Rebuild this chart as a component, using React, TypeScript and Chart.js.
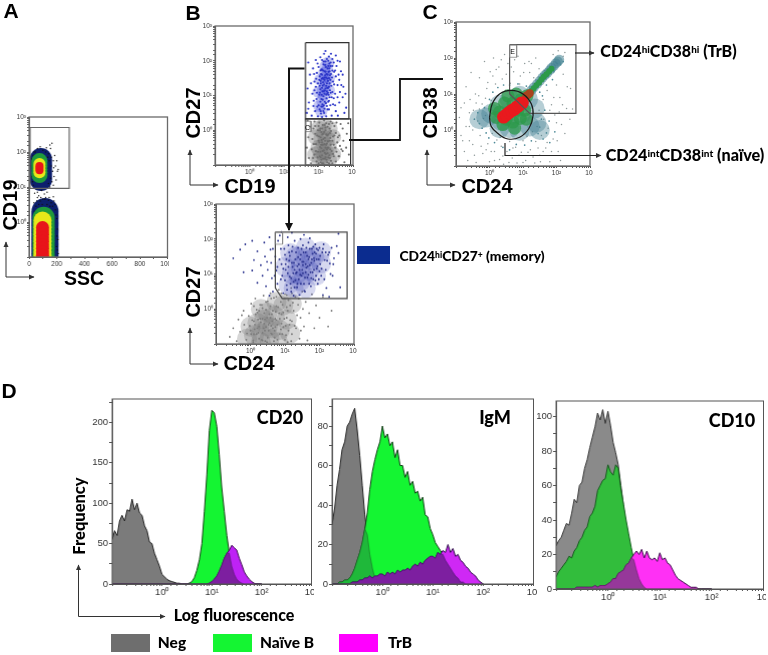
import React, { useEffect, useRef } from "react";
import { Chart, registerables } from "chart.js";
Chart.register(...registerables);

type P = [number, number];

// ---- Histogram data (panel D): shared log-spaced fluorescence channels
const channels = [0.1,0.112,0.126,0.141,0.158,0.178,0.2,0.224,0.251,0.282,0.316,0.355,0.398,0.447,0.501,0.562,0.631,0.708,0.794,0.891,1,1.12,1.26,1.41,1.58,1.78,2,2.24,2.51,2.82,3.16,3.55,3.98,4.47,5.01,5.62,6.31,7.08,7.94,8.91,10,11.2,12.6,14.1,15.8,17.8,20,22.4,25.1,28.2,31.6,35.5,39.8,44.7,50.1,56.2,63.1,70.8,79.4,89.1,100];
const cd20Neg = [55,66,60,78,85,78,92,90,105,92,100,88,85,72,66,52,50,38,30,22,12,9,6,4,3,2,1,1,0,0,0,1,0];
const cd20Naive = [0,0,0,0,0,0,0,0,0,0,0,0,0,0,0,0,0,0,0,0,0,0,0,0,0,0,0,0,0,0,0,1,3,8,17,30,50,90,135,190,215,212,195,160,120,90,60,38,22,12,6,3,1,0];
const cd20TrB = [0,0,0,0,0,0,0,0,0,0,0,0,0,0,0,0,0,0,0,0,0,0,0,0,0,0,0,0,0,0,0,0,0,0,0,0,0,0,0,1,3,6,10,16,23,32,38,42,48,45,42,32,24,15,10,6,3,1,0];
const igmNeg = [30,38,50,58,68,72,80,82,86,89,78,65,50,35,25,15,8,3,1,0];
const igmNaive = [0,0,0,1,1,2,2,3,5,8,12,16,21,28,36,48,57,63,68,72,80,74,76,70,72,64,68,60,60,54,57,50,52,46,47,42,44,35,34,28,25,21,19,17,15,12,10,8,6,4,3,1,1,0];
const igmTrB = [0,0,0,0,0,0,0,0,1,1,1,2,2,3,3,4,3,4,4,5,5,4,6,5,6,5,7,6,7,7,8,7,9,10,9,11,10,12,13,14,14,13,16,15,17,16,20,16,18,14,15,12,11,9,8,6,5,4,2,1,0];
const cd10Neg = [25,28,30,34,38,37,44,52,50,60,62,70,75,82,88,94,102,98,104,96,103,95,85,79,72,60,48,36,28,20,13,7,4,2,1,0];
const cd10Naive = [7,10,12,14,16,19,18,22,24,28,30,34,36,42,44,48,57,60,63,64,72,68,66,72,70,58,49,40,32,24,17,11,6,3,1,0];
const cd10TrB = [0,0,0,0,0,0,0,0,1,1,1,1,1,1,1,2,1,2,2,2,3,4,6,6,9,10,11,14,15,18,20,22,20,23,18,22,18,17,18,16,21,17,18,15,14,11,8,6,5,4,3,2,1,1,1,0];

// ---- Panel A: SSC / log10 CD19
const aGate: P[] = [[7,2.7],[290,2.7],[290,0.96],[7,0.96],[7,2.7]];
const aUpperBlue: P[] = [[85,1.2],[85,1.3],[85,1.4],[85,1.5],[85,1.6],[85,1.7],[85,1.8]];
const aUpperGreen: P[] = [[75,1.34],[75,1.42],[75,1.5],[75,1.58],[75,1.66],[75,1.74]];
const aUpperYellow: P[] = [[75,1.42],[75,1.5],[75,1.58],[75,1.66]];
const aUpperRed: P[] = [[75,1.48],[75,1.54],[75,1.6]];
const aLowerBlue: P[] = [[115,0.3],[115,0.2],[115,0.1],[115,0],[115,-0.1],[115,-0.2],[115,-0.3],[115,-0.4],[115,-0.5],[115,-0.6],[115,-0.7],[115,-0.8],[115,-0.9],[115,-1]];
const aLowerGreen: P[] = [[105,0.12],[105,0],[105,-0.1],[105,-0.2],[105,-0.3],[105,-0.4],[105,-0.5],[105,-0.6],[105,-0.7],[105,-0.8],[105,-0.9],[105,-1]];
const aLowerYellow: P[] = [[97,0.04],[97,-0.05],[97,-0.15],[97,-0.25],[97,-0.35],[97,-0.45],[97,-0.55],[97,-0.65],[97,-0.75],[97,-0.85],[97,-0.95]];
const aLowerRed: P[] = [[97,-0.16],[97,-0.25],[97,-0.35],[97,-0.45],[97,-0.55],[97,-0.65],[97,-0.75],[97,-0.85],[97,-0.95]];
const aSpeckle: P[] = [[30,1.9],[45,2.0],[60,2.1],[80,2.15],[100,2.05],[120,2.0],[140,1.95],[160,1.85],[175,1.75],[190,1.6],[205,1.45],[180,1.3],[165,1.15],[150,1.0],[130,0.85],[110,0.8],[90,0.9],[70,0.75],[50,0.95],[30,1.05],[20,1.3],[15,1.6],[18,1.8],[165,2.25],[150,2.2],[195,1.2],[175,1.05],[145,0.7],[115,0.65],[85,0.7],[60,0.85],[40,0.82],[210,1.5],[200,1.75],[185,1.9],[155,2.1],[125,2.12],[35,2.0],[25,1.15],[160,1.6],[170,1.45],[178,1.55],[155,1.25],[140,1.1],[135,1.85],[145,1.75],[60,0.7],[80,0.6],[100,0.65],[120,0.7],[140,0.62],[160,0.55],[180,0.6],[70,0.5],[95,0.5],[130,0.5],[150,0.45],[170,0.45],[190,0.35],[200,0.1],[205,-0.2],[208,-0.5],[205,-0.8],[195,0.2],[40,0.3],[35,0],[30,-0.3],[28,-0.6],[30,-0.9],[50,0.45],[210,-0.9],[200,-0.4],[198,-0.7],[188,0.5],[175,0.72],[55,0.6],[35,0.55]];

// ---- Panel B (top): log10 CD19 / log10 CD27
const bTopGateHi: P[] = [[1.62,2.52],[2.88,2.52],[2.88,0.33],[1.62,0.33],[1.62,2.52]];
const bTopGateLo: P[] = [[1.62,0.33],[2.93,0.33],[2.93,-1],[1.62,-1],[1.62,0.33]];
const bTopGateC: P[] = [[1.62,0.26],[1.78,0.26],[1.78,-0.04],[1.62,-0.04],[1.62,0.26]];
const bTopBlueCore: P[] = [[2.16,1.65],[2.22,1.4],[2.12,1.15],[2.1,0.85],[2.08,0.55],[2.25,1.75],[2.18,1.25],[2.2,1.55],[2.14,1.0],[2.2,1.85],[2.3,1.5],[2.0,1.1],[2.02,0.7],[2.28,1.95],[2.05,1.45],[2.3,1.15]];
const bTopBlue: P[] = [[1.7,1.95],[1.75,1.6],[1.68,1.2],[1.72,0.8],[1.66,0.5],[1.8,0.42],[1.85,0.7],[1.82,1.05],[1.88,1.4],[1.84,1.78],[1.92,2.02],[1.95,1.65],[1.92,1.25],[1.94,0.9],[1.9,0.55],[1.98,0.4],[2.0,0.72],[2.02,1.02],[1.98,1.35],[2.03,1.55],[2.0,1.82],[2.05,2.1],[2.08,1.75],[2.06,1.42],[2.05,1.18],[2.08,0.9],[2.06,0.55],[2.1,0.38],[2.12,0.68],[2.14,0.98],[2.12,1.28],[2.1,1.6],[2.14,1.9],[2.16,2.2],[2.2,2.28],[2.2,1.98],[2.18,1.7],[2.17,1.45],[2.2,1.2],[2.18,0.82],[2.16,0.5],[2.22,0.4],[2.24,0.7],[2.25,1.05],[2.24,1.35],[2.26,1.6],[2.28,1.85],[2.3,2.12],[2.36,2.2],[2.35,1.95],[2.32,1.7],[2.34,1.45],[2.3,1.25],[2.32,0.95],[2.3,0.6],[2.38,0.42],[2.42,0.75],[2.4,1.1],[2.42,1.4],[2.45,1.68],[2.44,1.95],[2.5,2.15],[2.52,1.85],[2.5,1.55],[2.55,1.3],[2.5,0.55],[2.56,0.42],[2.6,0.8],[2.62,1.1],[2.6,1.45],[2.65,1.7],[2.62,1.98],[2.7,1.6],[2.72,1.25],[2.7,0.95],[2.75,0.5],[2.78,1.05],[2.8,0.65],[2.22,1.52],[2.12,1.5],[2.28,1.22],[2.4,1.72],[1.78,1.35],[1.7,0.62],[2.48,1.05],[2.55,2.0],
  [2.03,1.28],[2.07,1.62],[2.11,0.75],[2.15,1.12],[2.19,1.58],[2.23,0.92],[2.27,1.42],[2.31,1.78],[2.09,1.02],[2.13,1.38],[2.17,0.62],[2.21,1.82],[2.25,1.22],[2.29,1.02],[2.33,1.58],[2.37,1.28],[2.05,0.82],[2.09,1.48],[2.13,1.72],[2.17,1.05],[2.21,0.78],[2.25,1.48],[2.29,1.68],[2.33,1.15],[2.04,1.08],[2.08,0.68],[2.12,0.88],[2.16,1.32],[2.2,1.68],[2.24,1.12],[2.28,0.82],[2.32,1.35],[2.36,1.62],[2.06,1.35],[2.1,1.22],[2.14,0.55],[2.18,1.52],[2.22,1.28],[2.26,1.78],[2.3,1.5],[2.34,1.85],[2.03,0.6],[2.07,0.48],[2.11,1.12],[2.15,0.72],[2.19,1.88],[2.23,1.62],[2.27,1.08],[2.31,1.92],[2.35,1.08],[2.39,1.52],[2.02,1.45],[2.06,1.72],[2.1,1.75],[2.14,1.48],[2.18,1.15],[2.22,1.02],[2.26,0.6],[2.3,0.85],[2.34,0.72],[2.38,0.95],[2.4,1.85],[2.45,1.32],[2.48,1.72],[2.44,0.92],[1.95,1.08],[1.93,1.48],[1.96,0.68],[1.97,1.92],[2.15,1.98],[2.24,2.05],[2.1,2.02],[2.28,2.0],[2.4,2.05],[1.88,1.15],[1.86,0.85],[1.87,1.62],[2.55,0.95],[2.58,1.6],[2.66,1.3],[2.48,0.72]];
const bTopGreyCore: P[] = [[2.15,-0.7],[2.15,-0.4],[2.15,-0.1],[2.0,-0.5],[2.3,-0.5],[2.15,-0.95],[2.02,-0.85],[2.3,-0.85],[2.08,-0.25],[2.25,-0.25],[2.05,-0.62],[2.22,-0.62],[1.9,-0.7],[1.92,-0.2],[2.42,-0.7],[2.42,-0.2],[2.15,0.12],[2.32,0.05],[2.0,0.05]];
const bTopGrey: P[] = [[1.68,0.28],[1.75,0.1],[1.7,-0.2],[1.66,-0.5],[1.72,-0.8],[1.78,-0.95],[1.8,-0.55],[1.82,-0.25],[1.85,0.05],[1.88,0.25],[1.9,-0.1],[1.92,-0.4],[1.88,-0.7],[1.94,-0.9],[1.98,-0.62],[2.0,-0.3],[1.98,0],[2.02,0.22],[2.05,0.05],[2.06,-0.2],[2.04,-0.48],[2.06,-0.78],[2.1,-0.95],[2.12,-0.6],[2.1,-0.35],[2.14,-0.1],[2.12,0.15],[2.16,0.28],[2.2,0.08],[2.18,-0.22],[2.2,-0.5],[2.18,-0.82],[2.25,-0.92],[2.26,-0.66],[2.24,-0.38],[2.28,-0.12],[2.3,0.18],[2.35,0.25],[2.36,-0.02],[2.32,-0.3],[2.34,-0.55],[2.33,-0.8],[2.4,-0.95],[2.42,-0.68],[2.44,-0.42],[2.42,-0.18],[2.46,0.12],[2.52,0.22],[2.5,-0.08],[2.54,-0.35],[2.52,-0.62],[2.5,-0.9],[2.6,-0.75],[2.62,-0.45],[2.6,-0.15],[2.64,0.18],[2.7,0.05],[2.72,-0.3],[2.7,-0.6],[2.75,-0.92],[2.8,-0.5],[2.82,-0.1],[2.86,0.2],[2.88,-0.7],[2.08,-0.05],[2.22,0.2],
  [2.01,-0.18],[2.05,-0.62],[2.09,-0.28],[2.13,-0.82],[2.17,-0.4],[2.21,-0.68],[2.25,-0.15],[2.29,-0.5],[2.33,-0.08],[2.03,-0.75],[2.07,-0.42],[2.11,-0.12],[2.15,-0.58],[2.19,-0.3],[2.23,-0.85],[2.27,-0.32],[2.31,-0.72],[2.35,-0.42],[2.02,-0.35],[2.06,-0.92],[2.1,-0.72],[2.14,-0.25],[2.18,-0.65],[2.22,-0.12],[2.26,-0.5],[2.3,-0.95],[2.34,-0.22],[2.38,-0.6],[1.96,-0.15],[1.97,-0.78],[2.0,-0.95],[2.04,0.0],[2.08,-0.52],[2.12,-0.42],[2.16,-0.05],[2.2,0.0],[2.24,-0.55],[2.28,-0.78],[2.32,0.05],[2.36,-0.88],[2.4,-0.3],[2.44,-0.75],[2.48,-0.5],[2.46,-0.15],[1.92,-0.6],[1.86,-0.4],[1.84,-0.8],[1.9,0.12],[2.56,-0.2],[2.58,-0.75],[2.66,-0.55],[2.1,0.05],[2.18,0.15],[2.26,0.1],[2.4,0.2],[2.0,0.12],[2.14,-0.95],[2.22,-0.42],[2.08,-0.85],[2.2,-0.78]];

// ---- Panel B (bottom): log10 CD24 / log10 CD27
const bLowGate: P[] = [[0.72,2.2],[2.8,2.2],[2.8,0.3],[0.92,0.3],[0.72,0.6],[0.72,2.2]];
const bLowGateSmall: P[] = [[0.72,2.2],[0.93,2.2],[0.93,1.85],[0.72,1.85],[0.72,2.2]];
const bLowBlueCore: P[] = [[1.2,1.0],[1.45,1.2],[1.6,1.45],[1.3,1.5],[1.1,0.7],[1.7,1.1],[1.45,0.8],[1.85,1.5],[1.35,1.0],[1.55,0.95],[1.4,1.5],[1.75,1.4],[1.0,1.2],[1.25,0.6],[1.6,0.6],[1.9,0.95],[2.05,1.3],[1.15,1.6],[1.6,1.75],[2.05,1.65]];
const bLowBlue: P[] = [[-0.5,1.45],[-0.3,1.7],[-0.15,1.85],[-0.2,1.05],[0.05,1.95],[0.1,1.4],[0.05,1.1],[0.2,0.75],[0.2,1.65],[0.3,1.25],[0.35,0.95],[0.4,1.9],[0.42,1.5],[0.45,0.65],[0.5,1.12],[0.55,2.05],[0.58,1.7],[0.6,1.32],[0.62,0.88],[0.65,0.5],[0.72,1.5],[0.75,1.1],[0.78,0.72],[0.8,1.95],[0.85,2.1],[0.88,1.72],[0.9,1.28],[0.92,0.95],[0.95,0.45],[1.0,1.55],[1.02,1.12],[1.05,0.68],[1.08,2.05],[1.1,1.82],[1.12,1.38],[1.14,0.92],[1.18,0.5],[1.2,1.65],[1.22,1.2],[1.25,0.78],[1.28,1.95],[1.3,1.42],[1.32,1.02],[1.35,0.62],[1.38,1.75],[1.4,1.28],[1.42,0.4],[1.45,2.0],[1.46,1.55],[1.48,0.95],[1.5,1.12],[1.52,1.82],[1.54,1.35],[1.55,0.72],[1.58,0.5],[1.6,1.62],[1.62,1.18],[1.65,0.9],[1.68,1.9],[1.7,1.48],[1.72,1.25],[1.75,0.65],[1.78,1.72],[1.8,1.05],[1.82,0.85],[1.85,1.38],[1.88,1.85],[1.9,1.58],[1.92,1.15],[1.95,0.72],[1.98,1.42],[2.0,1.75],[2.02,1.28],[2.05,0.95],[2.08,1.62],[2.12,1.85],[2.15,1.4],[2.18,1.12],[2.2,0.6],[2.25,1.55],[2.3,1.3],[2.35,1.75],[2.38,0.95],[2.42,1.45],[2.5,1.8],[2.55,1.6],[2.1,0.4],[2.28,0.35],[1.25,0.38],[0.9,2.2],[1.55,2.12],[1.72,2.02],[1.2,2.18],[0.55,0.38],[2.55,2.15],[2.6,0.62],
  [0.95,1.15],[1.0,0.82],[1.04,1.42],[1.08,1.02],[1.12,1.62],[1.16,0.72],[1.2,1.32],[1.24,1.02],[1.28,0.62],[1.32,1.62],[1.36,1.22],[1.4,0.85],[1.44,1.42],[1.48,1.72],[1.52,1.02],[1.56,0.52],[1.6,1.28],[1.64,1.52],[1.68,0.98],[1.72,1.72],[1.76,1.32],[1.8,1.58],[1.84,1.12],[1.88,0.82],[1.92,1.42],[1.96,1.68],[0.98,1.72],[1.02,1.28],[1.06,0.55],[1.1,1.2],[1.14,1.52],[1.18,0.88],[1.22,1.78],[1.26,1.32],[1.3,0.82],[1.34,1.05],[1.38,1.48],[1.42,1.12],[1.46,0.72],[1.5,1.35],[1.54,1.62],[1.58,0.9],[1.62,1.75],[1.66,1.22],[1.7,0.72],[1.74,1.05],[1.78,1.42],[1.82,1.78],[1.86,1.62],[1.9,0.95],[1.94,1.22],[1.98,0.85],[2.02,1.52],[2.06,1.15],[2.1,1.72],[2.14,0.85],[2.18,1.62],[0.88,0.85],[0.84,1.42],[0.78,1.2],[0.7,0.95],[0.65,1.72],[0.48,1.35],[1.28,1.12],[1.36,0.72],[1.44,0.98],[1.52,1.25],[1.6,1.05],[1.68,1.42],[1.76,0.88],[1.84,1.45],[1.92,1.72],[2.0,1.08],[2.22,1.38],[2.28,1.62],[2.32,1.0],[2.4,1.28]];
const bLowGreyCore: P[] = [[0.5,-0.5],[0.3,-0.7],[0.7,-0.2],[0.5,-0.1],[0.2,-0.4],[0.85,-0.6],[0.55,-0.85],[0.95,0.1],[0.3,-0.95],[0.8,-0.95],[0.4,-0.3],[0.62,-0.55],[0.1,-0.75],[1.05,-0.3],[0.0,-0.5],[-0.1,-0.85],[1.15,-0.7],[0.75,0.2],[0.3,0.0],[1.2,0.15]];
const bLowGrey: P[] = [[-0.6,-0.8],[-0.5,-0.55],[-0.4,-0.92],[-0.35,-0.3],[-0.3,-0.65],[-0.2,-0.05],[-0.18,-0.45],[-0.12,-0.88],[-0.05,-0.2],[0,-0.62],[0.02,0.15],[0.08,-0.95],[0.1,-0.35],[0.14,0.3],[0.18,-0.72],[0.2,-0.1],[0.25,-0.5],[0.28,0.12],[0.32,-0.88],[0.35,-0.28],[0.38,0.38],[0.42,-0.62],[0.45,-0.02],[0.48,-0.95],[0.5,0.22],[0.55,-0.4],[0.58,0.45],[0.6,-0.7],[0.62,-0.15],[0.68,0.32],[0.72,-0.52],[0.75,0.08],[0.78,-0.88],[0.82,0.55],[0.85,-0.28],[0.88,0.2],[0.92,-0.72],[0.95,-0.1],[1.0,0.42],[1.02,-0.48],[1.05,0.05],[1.08,-0.95],[1.1,0.25],[1.15,-0.32],[1.18,0.6],[1.2,-0.72],[1.25,-0.05],[1.3,0.35],[1.32,-0.55],[1.38,0.12],[1.42,-0.85],[1.45,-0.25],[1.5,0.5],[1.55,-0.5],[1.6,0.2],[1.65,-0.9],[1.7,-0.12],[1.78,0.42],[1.85,-0.55],[1.9,0.1],[2.0,-0.25],[2.1,0.35],[2.25,-0.5],[2.35,-0.05],[0.4,-0.42],[0.65,-0.55],[0.12,-0.58],[0.9,-0.42],[0.25,-0.85],[0.7,-0.82],[0.58,-0.25],[0.35,0.02],
  [0.05,-0.32],[0.1,-0.72],[0.15,-0.15],[0.2,-0.55],[0.25,-0.05],[0.3,-0.38],[0.35,-0.68],[0.4,-0.12],[0.45,-0.52],[0.5,-0.82],[0.55,-0.15],[0.6,-0.48],[0.65,-0.05],[0.7,-0.62],[0.75,-0.32],[0.8,0.05],[0.85,-0.72],[0.9,-0.15],[0.95,-0.52],[1.0,-0.88],[1.05,-0.25],[1.1,-0.62],[1.15,0.1],[1.2,-0.35],[0.08,-0.9],[0.13,-0.45],[0.18,-0.02],[0.23,-0.68],[0.28,-0.28],[0.33,0.12],[0.38,-0.55],[0.43,-0.92],[0.48,-0.25],[0.53,-0.62],[0.58,0.08],[0.63,-0.35],[0.68,-0.92],[0.73,-0.08],[0.78,-0.45],[0.83,-0.12],[0.88,-0.58],[0.93,0.12],[0.98,-0.28],[1.03,-0.75],[1.08,-0.05],[1.13,-0.45],[1.18,-0.92],[1.23,0.18],[1.28,-0.48],[1.35,-0.18],[1.4,0.3],[1.46,-0.62],[1.52,0.0],[0.02,-0.72],[-0.02,-0.48],[-0.1,-0.7],[-0.25,-0.18],[0.1,0.08],[0.45,0.2],[0.6,0.3],[0.75,0.35],[0.9,0.45],[1.05,0.4],[1.2,0.45],[0.35,-0.9],[0.52,-0.45],[0.62,-0.72],[0.42,-0.3],[0.72,-0.28],[0.22,-0.3]];

// ---- Panel C: log10 CD24 / log10 CD38
const cGateE: P[] = [[0.6,2.37],[2.58,2.37],[2.58,0.46],[1.2,0.46],[0.6,1.0],[0.6,2.37]];
const cGateELabel: P[] = [[0.6,2.36],[0.81,2.36],[0.81,2.02],[0.6,2.02],[0.6,2.36]];
const cEllipse: P[] = [[0,0.35],[0.08,0.72],[0.3,1.0],[0.65,1.1],[1.0,1.0],[1.25,0.72],[1.3,0.4],[1.18,0.05],[0.9,-0.2],[0.55,-0.25],[0.25,-0.1],[0.05,0.1],[0,0.35]];
const cTeal: P[] = [[0.05,0.45],[0.35,0.25],[0.6,0.05],[0.9,-0.02],[1.2,0.1],[1.4,0.2],[0.3,0.7],[0.6,0.85],[0.9,0.95],[1.15,0.85],[1.35,0.6],[-0.1,0.35],[0.6,0.4],[0.95,0.45],[0.3,0.05],[1.5,0.0],[-0.3,0.3]];
const cTealTail: P[] = [[1.25,1.1],[1.32,1.18],[1.42,1.28],[1.5,1.36],[1.58,1.45],[1.65,1.52],[1.72,1.58],[1.8,1.66],[1.85,1.72],[1.92,1.78],[1.98,1.85],[2.04,1.9],[2.08,1.95]];
const cGreen: P[] = [[0.3,0.5],[0.5,0.3],[0.7,0.22],[0.92,0.32],[1.05,0.55],[0.45,0.75],[0.7,0.75],[0.95,0.85],[1.12,0.95],[0.2,0.35],[0.4,0.15],[0.6,0.5],[0.85,0.55],[1.1,0.3],[0.75,0.05],[0.55,0.95],[0.8,1.0],[0.15,0.6]];
const cGreenTail: P[] = [[1.25,1.08],[1.32,1.16],[1.4,1.24],[1.48,1.32],[1.55,1.4],[1.62,1.48],[1.7,1.55],[1.78,1.63],[1.85,1.7]];
const cRed: P[] = [[0.42,0.36],[0.5,0.42],[0.58,0.48],[0.66,0.54],[0.75,0.58],[0.82,0.64],[0.88,0.68],[0.94,0.74],[0.98,0.75]];
const cBrown: P[] = [[1.1,0.95],[1.15,0.98],[1.2,1.02]];
const cSpeckle: P[] = [[-0.9,0.35],[-0.8,-0.3],[-0.75,0.75],[-0.7,1.2],[-0.65,-0.85],[-0.6,0.1],[-0.55,1.6],[-0.5,-0.4],[-0.48,0.55],[-0.42,1.0],[-0.4,-0.9],[-0.35,0.25],[-0.3,1.45],[-0.28,-0.15],[-0.22,0.72],[-0.2,-0.65],[-0.15,1.9],[-0.12,0.4],[-0.08,1.15],[-0.05,-0.38],[0,-0.88],[0.02,1.62],[0.05,0.82],[0.08,-0.1],[0.12,2.0],[0.15,-0.6],[0.18,1.28],[0.22,-0.28],[0.25,0.95],[0.28,1.75],[0.3,-0.82],[0.35,-0.45],[0.38,1.42],[0.42,-0.95],[0.45,2.1],[0.48,1.1],[0.52,-0.6],[0.55,1.85],[0.6,-0.32],[0.62,1.3],[0.68,-0.78],[0.72,1.62],[0.78,-0.48],[0.82,-0.92],[0.85,2.05],[0.9,1.28],[0.95,-0.62],[1.0,-0.3],[1.02,1.6],[1.08,-0.85],[1.12,-0.18],[1.18,1.9],[1.22,-0.55],[1.28,-0.05],[1.35,-0.92],[1.38,-0.32],[1.42,0.1],[1.48,0.55],[1.5,-0.7],[1.55,-0.15],[1.6,0.85],[1.62,0.3],[1.68,-0.5],[1.72,1.1],[1.75,0.05],[1.8,-0.88],[1.85,0.7],[1.9,-0.25],[1.95,0.42],[2.0,1.25],[2.05,-0.6],[2.1,0.9],[2.15,0.15],[2.2,1.55],[2.25,2.15],[2.3,0.6],[2.42,1.15],[2.48,0.58],[2.2,2.05],
  [-0.85,0.62],[-0.6,0.48],[-0.58,0.85],[-0.4,0.75],[-0.3,0.58],[-0.32,0.95],[-0.25,-0.45],[-0.18,0.32],[-0.12,0.88],[-0.1,-0.55],[-0.05,1.32],[0.05,-0.6],[0.1,1.5],[0.15,-0.85],[0.2,1.68],[0.32,-0.2],[0.35,1.95],[0.4,-0.72],[0.5,1.55],[0.58,-0.9],[0.65,1.75],[0.7,-0.5],[0.75,1.95],[0.88,-0.7],[0.92,1.5],[1.0,-0.9],[1.05,1.85],[1.15,-0.62],[1.2,1.6],[1.3,-0.75],[1.32,1.45],[1.45,-0.5],[1.48,1.7],[1.52,-0.88],[1.6,-0.6],[1.65,1.65],[1.72,-0.35],[1.8,0.55],[1.85,-0.6],[1.92,0.9],[2.0,0.2],[2.02,-0.3],[2.08,0.5],[2.12,-0.85],[2.18,0.7],[2.25,-0.1],[2.32,1.2],[2.4,0.3],[1.25,1.85],[1.38,2.0],[1.9,2.1],[2.05,2.2],[-0.75,-0.6],[-0.7,0.1],[-0.5,0.0],[-0.45,-0.7],[-0.6,-0.3],[-0.85,-0.15]];
const cTealSpeckle: P[] = [[-0.45,0.3],[-0.35,0.48],[-0.3,0.18],[-0.22,0.05],[-0.15,0.62],[-0.1,-0.08],[0,0.85],[-0.02,-0.22],[0.1,1.05],[0.15,-0.35],[0.25,1.18],[0.4,-0.48],[0.42,1.25],[0.6,-0.55],[0.6,1.25],[0.8,-0.4],[0.85,1.28],[1.05,-0.42],[1.1,1.22],[1.25,-0.3],[1.45,-0.1],[1.5,0.08],[1.6,-0.25],[1.55,0.3],[1.7,-0.08],[1.78,0.25],[1.65,0.55],[1.8,-0.35],[1.95,-0.05],[1.58,0.95],[1.7,1.25],[1.5,1.05],[1.88,1.4],[1.92,1.62],[2.12,1.82],[2.2,1.9]];

// ---- Axis ticks
const decadeLabels: Record<string, string> = { "0": "10⁰", "1": "10¹", "2": "10²", "3": "10³" };
const sscLabels = [0, 200, 400, 600, 800, 1000];
const freqLabels = { cd20: [0, 50, 100, 150, 200], igm: [0, 20, 40, 60, 80], cd10: [0, 20, 40, 60, 80, 100] };

// ---- Helpers
const exp10 = (pts: P[]) => pts.map(([x, y]) => ({ x: 10 ** x, y: 10 ** y }));
const expY = (pts: P[]) => pts.map(([x, y]) => ({ x, y: 10 ** y }));
const logLabel = (v: number) => {
  const e = Math.log10(v);
  return Math.abs(e - Math.round(e)) < 1e-6 ? decadeLabels[String(Math.round(e))] ?? "" : "";
};
const blob = (data: any[], color: string, r: number) => ({ data, showLine: false, pointRadius: r, pointHoverRadius: r, pointBackgroundColor: color, pointBorderWidth: 0, clip: 0 });
const gate = (data: any[], color = "#4a4a4a", width = 1.2, tension = 0) => ({ data, showLine: true, pointRadius: 0, borderColor: color, borderWidth: width, fill: false, tension, clip: false });
const hist = (vals: number[], fill: string, line: string, width = 1) => ({
  data: channels.map((x, i) => ({ x, y: vals[i] ?? 0 })), showLine: true, pointRadius: 0, fill: "origin", backgroundColor: fill, borderColor: line, borderWidth: width, tension: 0, clip: 0,
});
const minOf = (a: number[], b: number[]) => channels.map((_, i) => Math.min(a[i] ?? 0, b[i] ?? 0));

const frame = {
  id: "frame",
  afterDatasetsDraw(c: any, _a: any, o: any) {
    const { left, top, right, bottom } = c.chartArea;
    c.ctx.save();
    c.ctx.strokeStyle = o.color;
    c.ctx.lineWidth = o.width;
    c.ctx.strokeRect(left, top, right - left, bottom - top);
    c.ctx.restore();
  },
};

function fitter(prop: "width" | "height", size: number) {
  return (s: any) => {
    s[prop] = size;
    s.paddingLeft = s.paddingRight = s.paddingTop = s.paddingBottom = 0;
  };
}

type Spec = { l: number; t: number; w: number; h: number; ml: number; mr: number; mt: number; mb: number; small: boolean; xLinear?: boolean; yMax?: number; yStep?: number; yLabels?: number[]; sets: any[] };

const spec: Spec[] = [
  { l: 29, t: 117, w: 138, h: 140, ml: 18, mr: 1.5, mt: 5, mb: 14, small: true, xLinear: true, sets: [
    blob(expY(aUpperBlue), "#0d1f6e", 11), blob(expY(aLowerBlue), "#0d1f6e", 13.5),
    blob(expY(aSpeckle), "#111111", 0.7),
    blob(expY(aUpperGreen), "#1f9a3c", 8), blob(expY(aLowerGreen), "#1f9a3c", 11),
    blob(expY(aUpperYellow), "#e8e81a", 6), blob(expY(aLowerYellow), "#e8e81a", 9),
    blob(expY(aUpperRed), "#e8141a", 4), blob(expY(aLowerRed), "#e8141a", 6.5),
    gate(expY(aGate), "#666666", 1.2),
  ] },
  { l: 215, t: 26, w: 137.5, h: 139, ml: 18, mr: 3, mt: 5, mb: 14, small: true, sets: [
    blob(exp10(bTopGreyCore), "rgba(120,120,120,0.35)", 8), blob(exp10(bTopGrey), "#6d6d6d", 1.05),
    blob(exp10(bTopBlueCore), "rgba(50,60,215,0.28)", 6), blob(exp10(bTopBlue), "#2b35c8", 1.05),
    gate(exp10(bTopGateHi), "#333333"), gate(exp10(bTopGateLo), "#333333"), gate(exp10(bTopGateC), "#777777", 0.8),
  ] },
  { l: 215.5, t: 204, w: 138, h: 139.5, ml: 18, mr: 3, mt: 5, mb: 14, small: true, sets: [
    blob(exp10(bLowGreyCore), "rgba(120,120,120,0.3)", 10), blob(exp10(bLowGrey), "#7d7d7d", 0.95),
    blob(exp10(bLowBlueCore), "rgba(50,60,175,0.2)", 10), blob(exp10(bLowBlue), "#2c348f", 0.95),
    gate(exp10(bLowGate), "#444444"), gate(exp10(bLowGateSmall), "#888888", 0.8),
  ] },
  { l: 455.5, t: 21.5, w: 134, h: 144.5, ml: 18, mr: 3, mt: 5, mb: 14, small: true, sets: [
    blob(exp10(cSpeckle), "#8f9a9a", 0.75),
    blob(exp10(cTeal), "rgba(63,127,144,0.38)", 10), blob(exp10(cTealTail), "rgba(63,127,144,0.55)", 5), blob(exp10(cTealSpeckle), "#4d8a98", 0.85),
    blob(exp10(cGreen), "rgba(44,154,74,0.75)", 6.5), blob(exp10(cGreenTail), "#2c9a4a", 3),
    blob(exp10(cBrown), "#a8441e", 4), blob(exp10(cRed), "#e81a1e", 6.5),
    gate(exp10(cGateE), "#555555"), gate(exp10(cGateELabel), "#888888", 0.8), gate(exp10(cEllipse), "#1a1a1a", 1.2, 0.4),
  ] },
  { l: 112, t: 399, w: 199, h: 185, ml: 30, mr: 2.5, mt: 6, mb: 18, small: false, yMax: 229, yStep: 25, yLabels: freqLabels.cd20, sets: [
    hist(cd20Neg, "#7b7b7b", "#222222"), hist(cd20Naive, "#14f532", "#143c14"),
    hist(cd20TrB, "#be22f5", "#3c0a50"), hist(minOf(cd20Naive, cd20TrB), "#7d1fa0", "#5a1478", 0.6),
  ] },
  { l: 332, t: 399, w: 201, h: 185, ml: 16, mr: 3.5, mt: 6, mb: 18, small: false, yMax: 93.7, yStep: 10, yLabels: freqLabels.igm, sets: [
    hist(igmNeg, "#7b7b7b", "#222222"), hist(igmNaive, "#14f532", "#0f3c14"),
    hist(minOf(igmNeg, igmNaive), "#1fb83a", "#1c6a28", 0.6),
    hist(igmTrB, "#cf28f5", "#2c0a48"), hist(minOf(igmNaive, igmTrB), "#7d1fa0", "#4a1470", 0.6),
  ] },
  { l: 556, t: 400.5, w: 207, h: 188.5, ml: 20, mr: 2.5, mt: 6, mb: 18, small: false, yMax: 109, yStep: 10, yLabels: freqLabels.cd10, sets: [
    hist(cd10Neg, "#8a8a8a", "#333333"), hist(cd10Naive, "#32bd3c", "#145a1c"),
    hist(cd10TrB, "#ff30f5", "#3a0a4a"), hist(minOf(cd10Naive, cd10TrB), "#96389a", "#6a2070", 0.6),
  ] },
];

const SANS = "'Liberation Sans', Arial, sans-serif";
const CAL = "Lato, 'Open Sans', sans-serif";

function T({ x, y, s, rot, font = SANS, w, color = "#000", children }: any) {
  const weight = w ?? (font === CAL ? 900 : 700);
  return (
    <div style={{ position: "absolute", left: x, top: y, transform: `translate(-50%,-50%)${rot ? ` rotate(${rot}deg)` : ""}`, font: `${weight} ${s}px ${font}`, color, whiteSpace: "nowrap", lineHeight: 1 }}>
      {children}
    </div>
  );
}
const Sup = ({ children }: any) => <sup style={{ fontSize: "0.62em", lineHeight: 0, verticalAlign: "0.42em" }}>{children}</sup>;

function Arrow({ d, w = 1, c = "#333" }: { d: string; w?: number; c?: string }) {
  return <path d={d} fill="none" stroke={c} strokeWidth={w} markerEnd={`url(#${w > 1.5 ? "hb" : "hs"})`} />;
}

export default function App() {
  const refs = useRef<(HTMLCanvasElement | null)[]>([]);
  useEffect(() => {
    const charts = spec.map((p, i) => {
      const tickColor = "#333333";
      const font = { family: SANS, size: p.small ? 6.5 : 9.5 };
      return new Chart(refs.current[i]!, {
        type: "scatter",
        data: { datasets: [...p.sets].reverse() },
        plugins: [frame],
        options: {
          animation: false, responsive: false, maintainAspectRatio: false,
          layout: { autoPadding: false, padding: { top: p.mt, right: p.mr, left: 0, bottom: 0 } },
          plugins: { legend: { display: false }, tooltip: { enabled: false }, frame: { color: p.small ? "#6a6a6a" : "#555555", width: p.small ? 1.3 : 1 } } as any,
          scales: {
            x: p.xLinear
              ? { type: "linear", min: 0, max: 1000, afterFit: fitter("height", p.mb), grid: { drawOnChartArea: false, tickLength: 2, color: "#555" }, border: { color: "#555" },
                  ticks: { stepSize: 100, autoSkip: false, maxRotation: 0, minRotation: 0, padding: 1, color: tickColor, font, callback: (v: any) => (sscLabels.includes(v) ? String(v) : "") } }
              : { type: "logarithmic", min: 0.1, max: 1000, afterFit: fitter("height", p.mb), grid: { drawOnChartArea: false, tickLength: 2, color: "#555" }, border: { color: "#555" },
                  ticks: { autoSkip: false, maxRotation: 0, minRotation: 0, padding: 1, color: tickColor, font, callback: (v: any) => logLabel(Number(v)) } },
            y: p.yMax
              ? { type: "linear", min: 0, max: p.yMax, afterFit: fitter("width", p.ml), grid: { drawOnChartArea: false, tickLength: 3, color: "#555" }, border: { color: "#555" },
                  ticks: { stepSize: p.yStep, includeBounds: false, autoSkip: false, padding: 1, color: tickColor, font, callback: (v: any) => (p.yLabels!.includes(v) ? String(v) : "") } }
              : { type: "logarithmic", min: 0.1, max: 1000, afterFit: fitter("width", p.ml), grid: { drawOnChartArea: false, tickLength: 2, color: "#555" }, border: { color: "#555" },
                  ticks: { autoSkip: false, padding: 1, color: tickColor, font, callback: (v: any) => logLabel(Number(v)) } },
          },
        } as any,
      });
    });
    return () => charts.forEach((c) => c.destroy());
  }, []);

  return (
    <div style={{ position: "absolute", left: 0, top: 0, width: 768, height: 655, background: "#fff", overflow: "hidden" }}>
      {spec.map((p, i) => (
        <canvas
          key={i}
          ref={(el) => { refs.current[i] = el; }}
          width={p.w + p.ml + p.mr}
          height={p.h + p.mt + p.mb}
          style={{ position: "absolute", left: p.l - p.ml, top: p.t - p.mt, width: p.w + p.ml + p.mr, height: p.h + p.mt + p.mb, filter: "blur(0.3px)" }}
        />
      ))}

      <svg width={768} height={655} style={{ position: "absolute", left: 0, top: 0 }}>
        <defs>
          <marker id="hs" markerWidth="6" markerHeight="6" refX="5" refY="3" orient="auto" markerUnits="userSpaceOnUse"><path d="M0,0.5 L5.5,3 L0,5.5 Z" fill="#333" /></marker>
          <marker id="hb" markerWidth="9" markerHeight="8" refX="7" refY="4" orient="auto" markerUnits="userSpaceOnUse"><path d="M0,0 L8,4 L0,8 Z" fill="#111" /></marker>
        </defs>
        <Arrow d="M6,277 L6,242" /><Arrow d="M6,277 L34,277" />
        <Arrow d="M190,185 L190,150" /><Arrow d="M190,185 L218,185" />
        <Arrow d="M190,364 L190,328" /><Arrow d="M190,364 L218,364" />
        <Arrow d="M427,185 L427,150" /><Arrow d="M427,185 L455,185" />
        <Arrow d="M304.5,68.5 L289,68.5 L289,230" w={2} c="#111" />
        <path d="M349,140 L400,140 L400,79 L443,79" fill="none" stroke="#111" strokeWidth={1.8} />
        <Arrow d="M575,53 L594,53" w={1.2} c="#222" />
        <Arrow d="M505,143 L505,155.5 L601,155.5" w={1.2} c="#222" />
        <Arrow d="M78.5,616.5 L78.5,565" /><Arrow d="M78.5,616.5 L165,616.5" />
      </svg>

      <T x={11} y={10} s={21}>A</T>
      <T x={193} y={12} s={21}>B</T>
      <T x={430} y={11} s={21}>C</T>
      <T x={9} y={390} s={21}>D</T>

      <T x={10} y={205} s={20} rot={-90}>CD19</T>
      <T x={84} y={279} s={19.5}>SSC</T>
      <T x={193} y={113} s={20} rot={-90}>CD27</T>
      <T x={250} y={186} s={20}>CD19</T>
      <T x={193} y={292} s={20} rot={-90}>CD27</T>
      <T x={249} y={363} s={20}>CD24</T>
      <T x={430} y={113} s={20} rot={-90}>CD38</T>
      <T x={487} y={186} s={20}>CD24</T>

      <T x={307.5} y={127} s={7} w={400}>C</T>
      <T x={512.5} y={51} s={7} w={400}>E</T>

      <T x={668.5} y={51} s={16} font={CAL}>CD24<Sup>hi</Sup>CD38<Sup>hi</Sup> (TrB)</T>
      <T x={685} y={155} s={16.2} font={CAL}>CD24<Sup>int</Sup>CD38<Sup>int</Sup> (naïve)</T>
      <div style={{ position: "absolute", left: 357, top: 246, width: 33, height: 18, background: "#0b2c8f" }} />
      <T x={472} y={256} s={13.8} font={CAL}>CD24<Sup>hi</Sup>CD27<Sup>+</Sup> (memory)</T>

      <T x={280} y={417} s={18} font={CAL}>CD20</T>
      <T x={495} y={417} s={18} font={CAL}>IgM</T>
      <T x={732} y={420} s={18} font={CAL}>CD10</T>
      <T x={79} y={516} s={16.5} rot={-90} font={CAL}>Frequency</T>
      <T x={234} y={615} s={16} font={CAL}>Log fluorescence</T>

      <div style={{ position: "absolute", left: 111, top: 634, width: 39, height: 18, background: "#6e6e6e" }} />
      <T x={172} y={643} s={15.5} font={CAL}>Neg</T>
      <div style={{ position: "absolute", left: 213, top: 634, width: 39, height: 18, background: "#14f532" }} />
      <T x={287} y={643} s={15.5} font={CAL}>Naïve B</T>
      <div style={{ position: "absolute", left: 339, top: 634, width: 39, height: 18, background: "#ff00ff" }} />
      <T x={400} y={643} s={15.5} font={CAL}>TrB</T>
    </div>
  );
}
